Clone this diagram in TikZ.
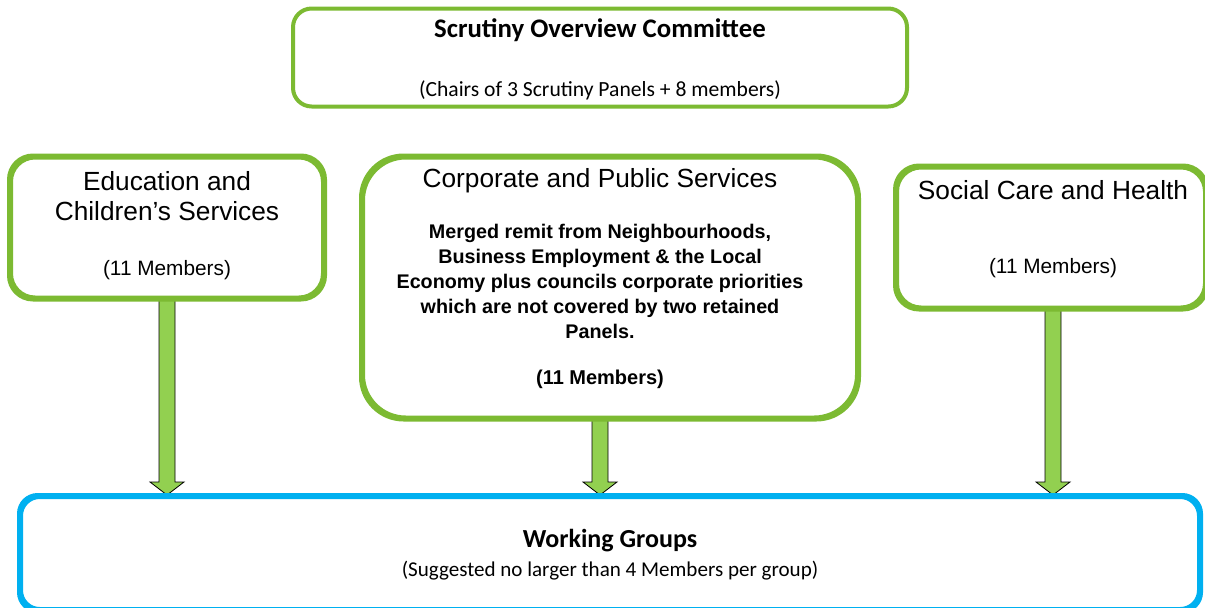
\documentclass[tikz,border=0pt]{standalone}
\usepackage{fontspec}
\setmainfont{Liberation Sans}
\newfontfamily\calfont{Carlito}
\usetikzlibrary{calc}
\definecolor{boxgreen}{RGB}{124,186,50}
\definecolor{arrowgreen}{RGB}{146,208,80}
\definecolor{wgblue}{RGB}{0,176,240}
\tikzset{
  panel/.style={draw=boxgreen, line width=3pt, fill=white},
  wgbox/.style={draw=wgblue, line width=3pt, fill=white},
  fatarrow/.style={fill=arrowgreen, draw=black, line width=0.6pt},
  headtxt/.style={font=\fontsize{19.7}{22.5}\selectfont, align=center},
  bodytxt/.style={font=\bfseries\fontsize{14.8}{18.75}\selectfont, align=center},
  memtxt/.style={font=\fontsize{15.6}{18}\selectfont},
}
\newcommand\drawfatarrow[2]{%
  \path[fatarrow] ($(#1)+(-8,0)$) -- ($(#1)+(8,0)$) -- ($(#2)+(8,-13)$) -- ($(#2)+(17,-13)$)
    -- (#2) -- ($(#2)+(-17,-13)$) -- ($(#2)+(-8,-13)$) -- cycle;}
\begin{document}
\begin{tikzpicture}[x=0.75pt,y=-0.75pt]
\useasboundingbox (0,0) rectangle (1205,607);
% box outlines as nodes
\node[panel, rounded corners=14pt, minimum width=614*0.75pt, minimum height=98*0.75pt, inner sep=0pt] (soc) at (600,57.5) {};
\node[panel, rounded corners=18pt, minimum width=312*0.75pt, minimum height=140*0.75pt, inner sep=0pt] (edu) at (167,227.5) {};
\node[panel, rounded corners=32pt, minimum width=494*0.75pt, minimum height=260*0.75pt, inner sep=0pt] (corp) at (610,287.5) {};
\node[panel, rounded corners=18pt, minimum width=308*0.75pt, minimum height=140*0.75pt, inner sep=0pt] (sch) at (1051,237.5) {};
\node[wgbox, rounded corners=14pt, minimum width=1178*0.75pt, minimum height=112*0.75pt, inner sep=0pt] (wg) at (610,553) {};
% arrows
\coordinate (a1) at (edu.south);
\coordinate (a2) at ($(corp.south)+(-10,0)$);
\coordinate (a3) at ($(sch.south)+(2,0)$);
\drawfatarrow{a1}{a1 |- wg.north}
\drawfatarrow{a2}{a2 |- wg.north}
\drawfatarrow{a3}{a3 |- wg.north}
% redraw outlines on top of arrows
\draw[draw=boxgreen, line width=3pt, rounded corners=18pt] (edu.south west) rectangle (edu.north east);
\draw[draw=boxgreen, line width=3pt, rounded corners=32pt] (corp.south west) rectangle (corp.north east);
\draw[draw=boxgreen, line width=3pt, rounded corners=18pt] (sch.south west) rectangle (sch.north east);
\draw[draw=wgblue, line width=3pt, rounded corners=14pt] (wg.south west) rectangle (wg.north east);
% texts
\node[font=\calfont\bfseries\fontsize{20.1}{22}\selectfont] (socT) at (600,30) {Scrutiny Overview Committee};
\node[font=\calfont\fontsize{16.2}{19}\selectfont] (socS) at (600,90) {(Chairs of 3 Scrutiny Panels + 8 members)};
\node[headtxt] (eduT) at (167,196) {Education and\\Children’s Services};
\node[memtxt] (eduM) at (167,270) {(11 Members)};
\node[headtxt] (corpT) at (600,181) {Corporate and Public Services};
\node[bodytxt] (corpB) at (600,281) {Merged remit from Neighbourhoods,\\Business Employment \& the Local\\Economy plus councils corporate priorities\\which are not covered by two retained\\Panels.};
\node[font=\bfseries\fontsize{15}{18}\selectfont] (corpM) at (600,379) {(11 Members)};
\node[headtxt] (schT) at (1053,190) {Social Care and Health};
\node[memtxt] (schM) at (1053,268) {(11 Members)};
\node[font=\calfont\bfseries\fontsize{19.5}{22}\selectfont] (wgT) at (610,541) {Working Groups};
\node[font=\calfont\fontsize{15.8}{18}\selectfont] (wgS) at (610,571) {(Suggested no larger than 4 Members per group)};
\end{tikzpicture}
\end{document}
